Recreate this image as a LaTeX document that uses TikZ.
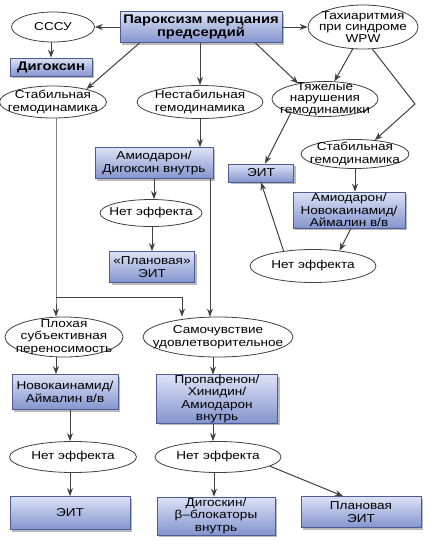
\documentclass[tikz,border=0pt]{standalone}
\usepackage{fontspec}
\setmainfont{Liberation Sans}[FakeStretch=1.18]
\usetikzlibrary{shapes.geometric,arrows.meta,shadows,calc}
\definecolor{bxtop}{HTML}{DCE2F6}
\definecolor{bxbot}{HTML}{8494CE}
\definecolor{bxline}{HTML}{4E5C94}
\definecolor{ln}{HTML}{404040}
\begin{document}
\begin{tikzpicture}[x=1pt,y=-1pt,
  every node/.style={font=\fontsize{11.5}{12.5}\selectfont, align=center, inner sep=0pt},
  ell/.style={ellipse, draw=ln, line width=0.8pt, fill=white, inner xsep=-40pt, inner ysep=-14pt},
  tight/.style={font=\fontsize{11.5}{11.6}\selectfont},
  bold/.style={font=\fontsize{12.5}{13}\selectfont\bfseries},
  bx/.style={rectangle, draw=bxline, line width=0.8pt, top color=bxtop, bottom color=bxbot,
    drop shadow={shadow xshift=2pt, shadow yshift=-2pt, fill=black!45, opacity=0.6}},
  arr/.style={draw=ln, line width=1pt, -{Stealth[length=8pt,width=6pt]}}]
\useasboundingbox (0,0) rectangle (427,541);
\fill[white] (0,0) rectangle (427,541);

% top row
\node[bx, bold, minimum width=162pt, minimum height=31pt] (top) at (201,27) {Пароксизм мерцания\\предсердий};
\node[ell, minimum width=83pt, minimum height=30pt] (sssu) at (53,27) {СССУ};
\node[ell, tight, minimum width=110pt, minimum height=44pt] (tachy) at (363,27) {Тахиаритмия\\при синдроме\\WPW};
\node[bx, bold, minimum width=82pt, minimum height=18pt] (digox) at (51,67) {Дигоксин};

% second row
\node[ell, minimum width=107pt, minimum height=32pt] (stabL) at (53,102) {Стабильная\\гемодинамика};
\node[ell, minimum width=126pt, minimum height=33pt] (nestab) at (200,102) {Нестабильная\\гемодинамика};
\node[ell, tight, minimum width=106pt, minimum height=35pt] (heavy) at (325,99) {Тяжелые\\нарушения\\гемодинамики};

% middle
\node[ell, minimum width=108pt, minimum height=29pt] (stabR) at (355,154) {Стабильная\\гемодинамика};
\node[bx, minimum width=65pt, minimum height=18pt] (eit1) at (261,173) {ЭИТ};
\node[bx, minimum width=112pt, minimum height=36pt] (amioR) at (349,210) {Амиодарон/\\Новокаинамид/\\Аймалин в/в};
\node[ell, minimum width=126pt, minimum height=33pt] (netR) at (313,266) {Нет эффекта};
\node[bx, minimum width=118pt, minimum height=31pt] (amioD) at (154,163) {Амиодарон/\\Дигоксин внутрь};
\node[ell, minimum width=102pt, minimum height=27pt] (netM) at (151,213) {Нет эффекта};
\node[bx, minimum width=85pt, minimum height=31pt] (plan1) at (152,267) {«Плановая»\\ЭИТ};

% lower part
\node[ell, minimum width=118pt, minimum height=40pt] (plokh) at (64,337) {Плохая\\субъективная\\переносимость};
\node[ell, minimum width=150pt, minimum height=40pt] (samo) at (218,337) {Самочувствие\\удовлетворительное};
\node[bx, minimum width=106pt, minimum height=35pt] (novo) at (65,392) {Новокаинамид/\\Аймалин в/в};
\node[bx, minimum width=121pt, minimum height=48pt] (propa) at (217,399) {Пропафенон/\\Хинидин/\\Амиодарон\\внутрь};
\node[ell, minimum width=127pt, minimum height=31pt] (netL) at (73,457) {Нет эффекта};
\node[ell, minimum width=126pt, minimum height=31pt] (netB) at (218,457) {Нет эффекта};
\node[bx, minimum width=120pt, minimum height=33pt] (eit2) at (70,513) {ЭИТ};
\node[bx, minimum width=118pt, minimum height=38pt] (digo) at (216,516) {Дигоскин/\\β–блокаторы\\внутрь};
\node[bx, minimum width=120pt, minimum height=31pt] (plan2) at (361,512) {Плановая\\ЭИТ};

% junction coordinates
\coordinate (jL) at (56,297);
\coordinate (jR) at (182,297);
\coordinate (bend) at (415,104);

% connectors
\draw[arr] (top.west) -- (sssu.east);
\draw[arr] (top.east) -- (tachy.west);
\draw[arr] (sssu.south -| digox.north) -- (digox.north);
\draw[arr] ([xshift=20pt]top.south west) -- (stabL.21);
\draw[arr] (top.south -| nestab.north) -- (nestab.north);
\draw[arr] ([xshift=-27pt]top.south east) -- (heavy.150);
\draw[arr] (tachy.245) -- (heavy.62);
\draw[arr] (tachy.293) -- (bend) -- (stabR.35);
\draw[arr] (heavy.202) -- ([xshift=4pt]eit1.north);
\draw[arr] (stabR.south) -- (stabR.south |- amioR.north);
\draw[arr] ([xshift=2pt]amioR.south) -- (netR.30);
\draw[arr] (netR.153) -- (eit1.south);
\draw[arr] (nestab.south) -- (nestab.south |- amioD.north);
\draw[arr] (amioD.south) -- (amioD.south |- netM.north);
\draw[arr] (netM.south -| plan1.north) -- (plan1.north);
\draw[arr] ([xshift=56pt]amioD.south) -- ([xshift=56pt]amioD.south |- samo.north);
\draw[arr] (stabL.south -| jL) -- (jL) -- (jL |- plokh.north);
\draw[arr] (jL) -- (jR) -- (jR |- samo.north);
\draw[arr] (plokh.south -| jL) -- (jL |- novo.north);
\draw[arr] (novo.south -| eit2.north) -- (eit2.north |- netL.north);
\draw[arr] (netL.south -| eit2.north) -- (eit2.north);
\draw[arr] ([xshift=-5pt]samo.south) -- ([xshift=-5pt]samo.south |- propa.north);
\draw[arr] ([xshift=-4pt]propa.south) -- ([xshift=-4pt]propa.south |- netB.north);
\draw[arr] ([xshift=-4pt]netB.south) -- ([xshift=-4pt]netB.south |- digo.north);
\draw[arr] (netB.350) -- ([xshift=-18pt]plan2.north);
\end{tikzpicture}
\end{document}
